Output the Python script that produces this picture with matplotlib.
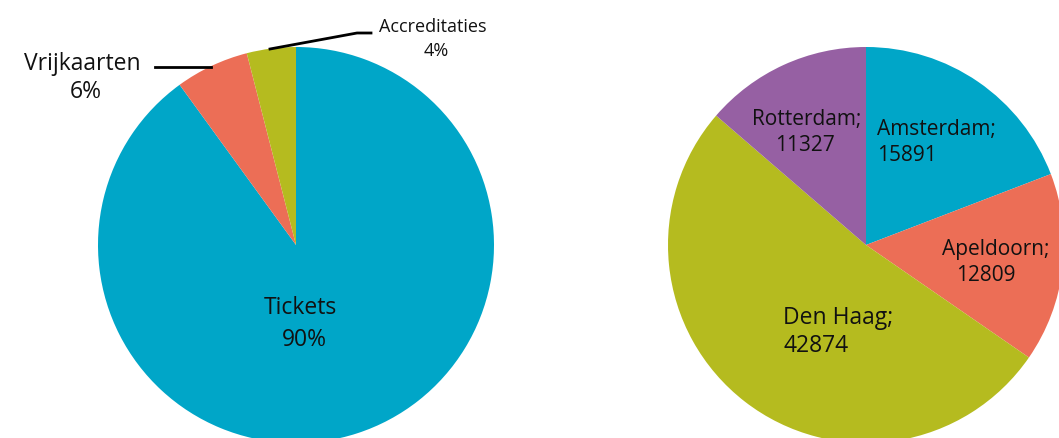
import matplotlib
matplotlib.use("Agg")
import matplotlib.pyplot as plt

plt.rcParams['font.family'] = ['Open Sans', 'DejaVu Sans']

# Left pie data
types = ["Tickets", "Vrijkaarten", "Accreditaties"]
type_pct = [90, 6, 4]
# Right pie data
cities = ["Amsterdam", "Apeldoorn", "Den Haag", "Rotterdam"]
city_vals = [15891, 12809, 42874, 11327]

c_blue = "#00A6C8"
c_orange = "#EC6E56"
c_olive = "#B5BB1F"
c_purple = "#9660A3"

W, H = 1059, 438
fig = plt.figure(figsize=(W / 100, H / 100), dpi=100)

def pie_axes(cx, cy, r):
    ax = fig.add_axes([(cx - r) / W, (H - cy - r) / H, 2 * r / W, 2 * r / H])
    return ax

def finish(ax):
    ax.set_xlim(-1, 1)
    ax.set_ylim(-1, 1)
    ax.set_aspect("equal")
    ax.axis("off")

ax1 = pie_axes(296, 245, 198)
ax1.pie(type_pct, colors=[c_blue, c_orange, c_olive], startangle=90,
        counterclock=False, radius=1, wedgeprops=dict(linewidth=0))
finish(ax1)

ax2 = pie_axes(866, 245, 198)
ax2.pie(city_vals, colors=[c_blue, c_orange, c_olive, c_purple], startangle=90,
        counterclock=False, radius=1, wedgeprops=dict(linewidth=0))
finish(ax2)

def ptext(x, y, s, size, ha="center"):
    fig.text(x / W, 1 - (y + 2.5) / H, s, fontsize=size, ha=ha, va="center", color="#111111")

# Left labels
ptext(82, 61, types[1], 16.5)
ptext(86, 90, f"{type_pct[1]}%", 16.5)
ptext(433, 25, types[2], 13)
ptext(436, 48, f"{type_pct[2]}%", 13)
ptext(300, 305, types[0], 16.5)
ptext(304, 337, f"{type_pct[0]}%", 16.5)

# leader lines (figure pixel coords)
def pline(xs, ys):
    fig.add_artist(plt.Line2D([x / W for x in xs], [1 - y / H for y in ys],
                              color="black", lw=2, transform=fig.transFigure))

pline([155, 211], [67, 67])
pline([270, 357, 371], [49, 33, 33])

# Right labels
ptext(877, 127, f"{cities[0]};", 15, ha="left")
ptext(877, 153, f"{city_vals[0]}", 15, ha="left")
ptext(942, 247, f"{cities[1]};", 15, ha="left")
ptext(956, 273, f"{city_vals[1]}", 15, ha="left")
ptext(783, 316, f"{cities[2]};", 16.5, ha="left")
ptext(783, 344, f"{city_vals[2]}", 16.5, ha="left")
ptext(752, 117, f"{cities[3]};", 15, ha="left")
ptext(775, 143, f"{city_vals[3]}", 15, ha="left")

fig.savefig("out.png", dpi=100)
